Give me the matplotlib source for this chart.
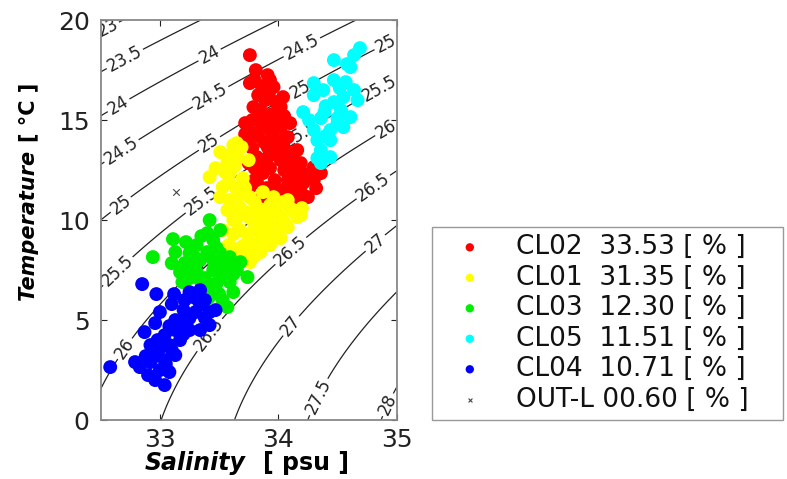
import numpy as np
import matplotlib
matplotlib.use("Agg")
import matplotlib.pyplot as plt

plt.rcParams['font.family'] = ['DejaVu Sans']

# ---------------- data (S [psu], T [degC]) ----------------
cl02_S = [33.76, 33.81, 33.91, 33.76, 33.96, 33.83, 34.04, 33.79, 34.02, 33.87, 33.72, 34.10,
          33.93, 33.79, 34.08, 33.74, 33.91, 34.16, 33.82, 34.02, 34.19, 34.30, 34.36, 33.87,
          34.08, 34.21, 33.76, 33.96, 34.16, 34.25, 34.10, 34.16, 33.86, 33.97, 33.86, 33.97,
          34.06, 33.75, 33.89, 33.97, 33.93, 34.00, 33.80, 34.12, 34.22,
          33.80, 33.86, 33.92, 33.98, 33.85, 33.95, 34.05, 33.78, 33.90, 34.02, 33.83, 33.95,
          34.05, 33.78, 33.88, 34.00, 34.12, 33.92, 33.80, 33.93, 34.05, 34.25, 34.30, 33.82,
          33.90, 34.02, 34.14, 34.20, 33.87, 34.06, 34.32, 34.12, 33.72]
cl02_T = [18.25, 17.50, 17.25, 16.85, 16.65, 16.25, 16.15, 15.65, 15.65, 15.15, 14.85, 14.85,
          14.50, 14.35, 14.15, 13.85, 13.65, 13.50, 13.15, 13.00, 12.85, 12.65, 12.35, 12.35,
          12.00, 11.85, 11.65, 11.35, 11.15, 11.15, 11.35, 12.50, 14.75, 14.00, 12.75, 12.00,
          13.50, 12.85, 16.00, 15.00, 17.00, 13.80, 12.00, 12.20, 12.30,
          17.00, 16.70, 16.30, 15.90, 15.50, 15.30, 15.20, 15.00, 14.90, 14.60, 14.20, 14.30,
          14.00, 13.60, 13.90, 13.30, 13.10, 13.20, 12.60, 12.60, 12.50, 12.30, 12.00, 11.90,
          11.60, 11.50, 11.60, 11.30, 11.20, 11.10, 11.60, 12.80, 14.30]

cl01_S = [33.51, 33.62, 33.69, 33.57, 33.66, 33.75, 33.42, 33.59, 33.70, 33.53, 33.65, 33.51,
          33.59, 33.76, 33.87, 33.96, 33.57, 33.68, 33.82, 33.93, 34.04, 34.13, 33.62, 33.76,
          33.91, 34.02, 34.16, 33.68, 33.82, 33.96, 34.08, 33.74, 33.87, 34.02, 33.76, 33.68,
          33.85, 33.61, 33.93, 34.19, 33.65, 33.53, 33.58, 33.81, 33.70, 33.88,
          33.60, 33.72, 33.85, 33.98, 34.10, 33.65, 33.80, 33.92, 34.05, 33.62, 33.75, 33.88,
          34.00, 33.70, 33.82, 33.95, 33.72, 33.80, 33.66, 33.80, 34.08, 34.20, 33.55, 33.63,
          33.58, 33.72, 33.60, 33.47]
cl01_T = [13.40, 13.75, 13.65, 12.90, 13.10, 13.00, 12.15, 12.35, 12.10, 11.65, 11.50, 11.15,
          11.00, 11.15, 11.40, 11.15, 10.50, 10.60, 10.65, 10.75, 10.90, 10.40, 10.00, 10.10,
          10.15, 10.15, 10.15, 9.50, 9.50, 9.60, 9.65, 8.90, 9.00, 9.10, 7.90, 8.25,
          8.40, 8.60, 8.75, 10.25, 13.85, 9.50, 8.75, 9.90, 11.80, 10.40,
          10.60, 10.40, 10.30, 10.40, 10.60, 10.10, 9.80, 9.80, 9.90, 9.30, 9.30, 9.30,
          9.30, 8.70, 8.80, 9.00, 8.40, 8.20, 11.20, 10.90, 11.00, 10.60, 12.40, 12.70,
          11.90, 11.60, 13.30, 12.60]

cl03_S = [33.42, 33.51, 33.40, 33.11, 33.45, 33.31, 33.13, 33.25, 33.40, 33.51, 32.94, 33.34,
          33.45, 33.59, 33.10, 33.21, 33.57, 33.65, 33.17, 33.31, 33.45, 33.74, 33.53, 33.19,
          33.34, 33.48, 33.59, 33.42, 33.62, 33.53, 33.57, 33.41, 33.27, 33.68,
          33.22, 33.35, 33.48, 33.30, 33.52, 33.38, 33.46, 33.25, 33.62, 33.50]
cl03_T = [10.00, 9.50, 9.35, 9.05, 9.00, 8.75, 8.40, 8.35, 8.40, 8.35, 8.15, 8.00,
          8.00, 8.15, 7.85, 7.85, 7.75, 7.50, 7.40, 7.40, 7.50, 7.15, 7.25, 6.90,
          7.00, 6.85, 6.90, 6.50, 6.40, 6.00, 5.65, 6.10, 7.60, 7.90,
          8.90, 9.20, 8.60, 8.10, 7.80, 7.10, 6.80, 7.10, 7.30, 6.30]

cl05_S = [34.69, 34.64, 34.47, 34.61, 34.47, 34.30, 34.38, 34.64, 34.55, 34.30, 34.67, 34.47,
          34.21, 34.36, 34.53, 34.61, 34.50, 34.30, 34.44, 34.55, 34.33, 34.44, 34.36, 34.44,
          34.36, 34.39, 34.58, 34.52, 34.40, 34.26, 34.40, 34.50, 34.33, 34.57]
cl05_T = [18.60, 18.25, 18.00, 17.65, 17.00, 16.85, 16.50, 16.50, 16.15, 16.25, 16.00, 15.90,
          15.40, 15.10, 15.50, 15.15, 14.85, 14.50, 14.50, 14.65, 14.00, 14.00, 13.50, 13.15,
          12.85, 15.40, 17.80, 16.60, 15.70, 15.00, 14.20, 15.10, 13.10, 16.90]

cl04_S = [32.85, 32.97, 33.10, 33.21, 33.25, 33.30, 33.00, 33.13, 33.25, 33.34, 33.38, 33.42,
          33.34, 33.25, 33.13, 33.04, 32.87, 32.92, 33.00, 33.08, 33.17, 32.96, 33.04, 33.13,
          32.92, 32.79, 32.83, 33.00, 33.08, 32.96, 33.04, 32.58, 32.90, 33.34, 33.38, 33.47,
          33.42, 33.21, 32.96, 33.17,
          33.20, 33.08, 32.98, 33.10, 33.20, 33.30, 33.05, 32.88, 33.12]
cl04_T = [6.80, 6.30, 5.80, 6.00, 6.40, 6.10, 5.40, 5.00, 5.10, 5.75, 5.10, 4.75,
          4.50, 4.50, 4.50, 4.25, 4.40, 3.75, 3.60, 3.75, 4.00, 3.20, 3.00, 3.25,
          2.90, 2.90, 2.65, 2.50, 2.40, 2.00, 1.75, 2.65, 2.25, 6.50, 6.00, 5.50,
          5.40, 5.10, 4.85, 4.75,
          5.50, 4.70, 4.00, 3.50, 4.30, 5.40, 2.80, 3.20, 6.30]

outl_S = [33.14]
outl_T = [11.40]

series = [
    ("CL02  33.53 [ % ]", cl02_S, cl02_T, "#ff0000"),
    ("CL01  31.35 [ % ]", cl01_S, cl01_T, "#ffff00"),
    ("CL03  12.30 [ % ]", cl03_S, cl03_T, "#00ee00"),
    ("CL05  11.51 [ % ]", cl05_S, cl05_T, "#00ffff"),
    ("CL04  10.71 [ % ]", cl04_S, cl04_T, "#0000ff"),
]
outl_label = "OUT-L 00.60 [ % ]"

sigma_levels = np.arange(23.0, 28.01, 0.5)
label_pos = [(32.56, 19.6), (32.70, 18.1), (33.42, 18.25), (34.19, 18.75), (34.90, 18.9),
             (32.64, 15.85), (33.42, 16.25), (34.19, 16.5), (34.85, 16.65),
             (32.66, 13.6), (33.40, 14.0), (34.16, 14.6), (34.90, 14.65),
             (32.64, 11.0), (33.34, 11.1), (34.78, 11.85),
             (32.62, 7.6), (33.38, 8.1), (34.10, 8.5), (34.82, 8.85),
             (32.66, 3.75), (33.40, 4.35), (34.10, 4.75), (34.31, 1.25), (34.95, 0.7)]


def sigma_t(S, T):
    rw = (999.842594 + 6.793952e-2 * T - 9.095290e-3 * T**2 + 1.001685e-4 * T**3
          - 1.120083e-6 * T**4 + 6.536332e-9 * T**5)
    A = 8.24493e-1 - 4.0899e-3 * T + 7.6438e-5 * T**2 - 8.2467e-7 * T**3 + 5.3875e-9 * T**4
    B = -5.72466e-3 + 1.0227e-4 * T - 1.6546e-6 * T**2
    C = 4.8314e-4
    return rw + A * S + B * S**1.5 + C * S**2 - 1000.0


fig = plt.figure(figsize=(7.87, 4.79), dpi=100)
ax = fig.add_axes([0.128, 0.123, 0.376, 0.835])

Sg, Tg = np.meshgrid(np.linspace(32.5, 35, 300), np.linspace(0, 20, 300))
cs = ax.contour(Sg, Tg, sigma_t(Sg, Tg), levels=sigma_levels, colors="#222222",
                linewidths=0.9, zorder=1)
lbls = ax.clabel(cs, manual=label_pos, inline=True, inline_spacing=2, fontsize=12,
                 fmt=lambda v: f"{v:g}")
for t in lbls:
    t.set_zorder(2)

handles = []
for lab, S, T, c in series:
    h = ax.scatter(S, T, s=100, c=c, edgecolors="none", zorder=4, label=lab)
    handles.append(h)
h = ax.scatter(outl_S, outl_T, s=22, marker="x", c="#444444", linewidths=0.8, zorder=5,
               label=outl_label)
handles.append(h)

ax.set_xlim(32.5, 35)
ax.set_ylim(0, 20)
ax.set_xticks([33, 34, 35])
ax.set_yticks([0, 5, 10, 15, 20])
ax.tick_params(direction="in", top=True, right=True, length=4, width=0.8,
               labelsize=18, colors="#222222", pad=6)
ax.tick_params(axis="y", pad=8)
for sp in ax.spines.values():
    sp.set_color("#888888")
    sp.set_linewidth(1.3)

ax.text(0.49, -0.125, "Salinity", transform=ax.transAxes, ha="right", va="baseline",
        fontsize=17, fontweight="bold", fontstyle="italic")
ax.text(0.55, -0.125, "[ psu ]", transform=ax.transAxes, ha="left", va="baseline",
        fontsize=17, fontweight="bold")
ax.text(-0.245, 0.30, "Temperature", transform=ax.transAxes, ha="center", va="bottom",
        rotation=90, fontsize=15, fontweight="bold", fontstyle="italic")
ax.text(-0.245, 0.695, "[ °C ]", transform=ax.transAxes, ha="center", va="bottom",
        rotation=90, fontsize=15, fontweight="bold")

leg = fig.legend(handles=handles, loc="lower left",
                 bbox_to_anchor=(0.549, 0.123, 0.446, 0.392), mode="expand",
                 borderaxespad=0, fontsize=19, labelspacing=0.17, borderpad=0.28,
                 handlelength=2.3, handletextpad=0.6, markerscale=0.6,
                 fancybox=False, framealpha=1, edgecolor="#999999")
leg.get_frame().set_linewidth(1.0)
for t in leg.get_texts():
    t.set_color("#111111")

fig.savefig("out.png", dpi=100)
